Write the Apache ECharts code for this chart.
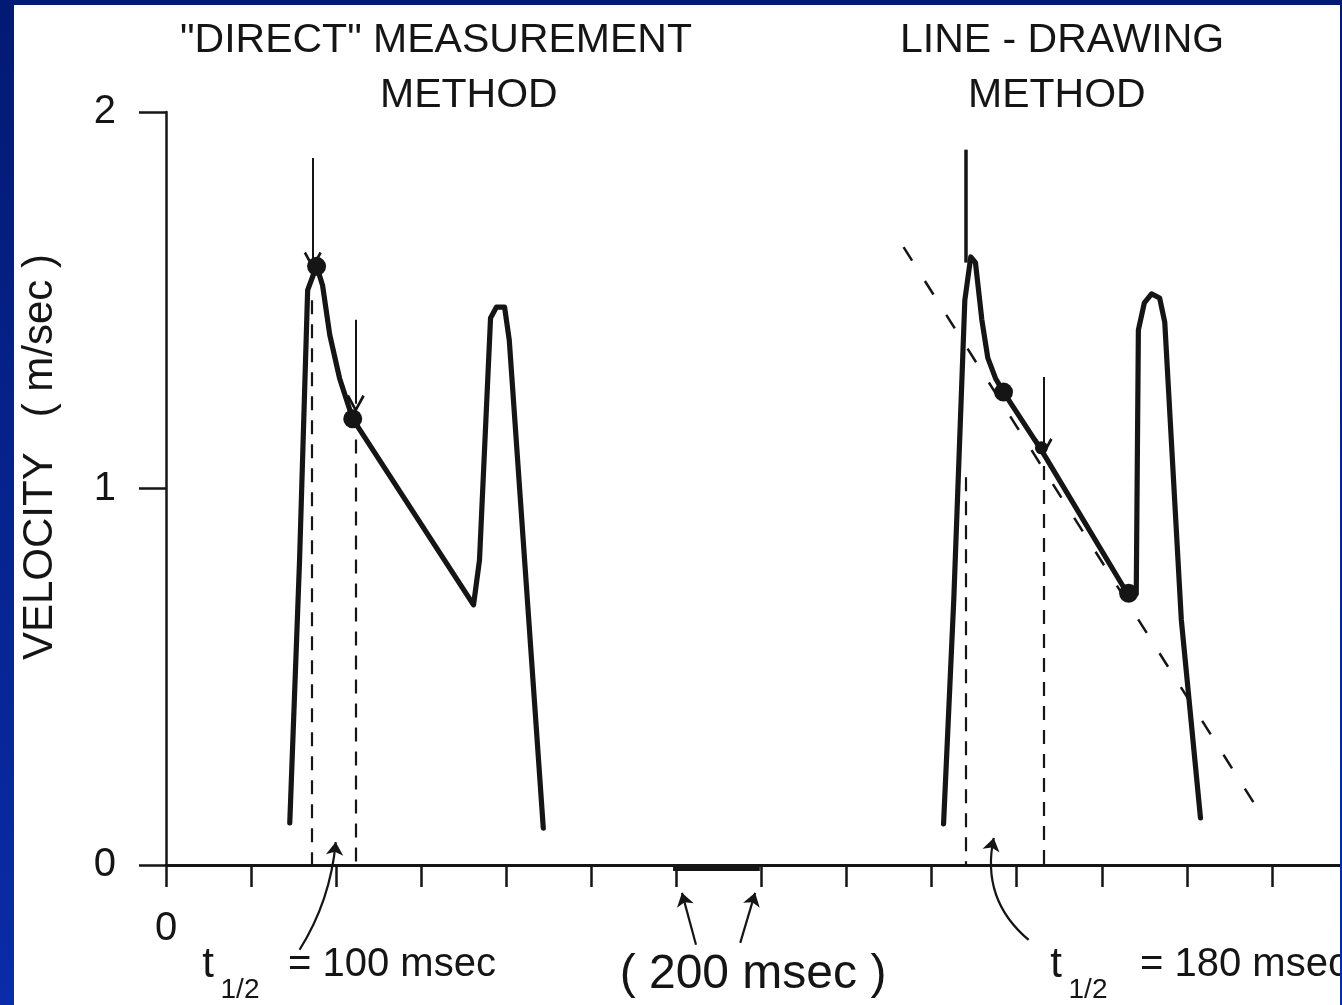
<!DOCTYPE html>
<html>
<head>
<meta charset="utf-8">
<script src="https://cdn.jsdelivr.net/npm/echarts@6/dist/echarts.min.js"></script>
<style>
html,body{margin:0;padding:0;width:1342px;height:1005px;overflow:hidden;background:linear-gradient(to bottom,#021a74,#0b2ba8);}
#chart{position:absolute;left:14px;top:5px;width:1326px;height:1000px;background:#fff;}
</style>
</head>
<body>
<div id="chart"></div>
<script>
// ---- data (time in msec, velocity in m/sec) ----
const xTickValues = [0,200,400,600,800,1000,1200,1400,1600,1800,2000,2200,2400,2600];
const xLabelValues = [0];
const yTickValues = [0,1,2];

const directTime = [291,314,333,354,368,385,408,439,723,737,763,777,796,807,887];
const directVel  = [0.112,0.81,1.527,1.591,1.540,1.408,1.293,1.185,0.691,0.81,1.453,1.482,1.482,1.394,0.098];

const lineTime = [1828,1852,1878,1892,1903,1918,1932,1950,1969,2058,2258,2281,2286,2300,2317,2336,2348,2387,2432];
const lineVel  = [0.109,0.704,1.50,1.615,1.60,1.448,1.347,1.293,1.256,1.102,0.725,0.72,1.421,1.493,1.517,1.506,1.442,0.651,0.125];

const dotTime = [354,439,1969,2058,2263];
const dotVel  = [1.590,1.185,1.256,1.108,0.722];
const dotSize = [19,19,19,13,19];

// vertical dashed drop lines: [time, top velocity]
const dropTime = [343,446,1880,2063];
const dropTop  = [1.50,1.13,1.03,1.06];

// indicator arrows (vertical): [time, from velocity, to velocity]
const arrowTime = [345,446,2063];
const arrowFrom = [1.878,1.448,1.296];
const arrowTo   = [1.605,1.225,1.110];

// extrapolation (dashed) line
const extrapTime = [1734,2568];
const extrapVel  = [1.641,0.146];

// tall spike on the line-drawing trace
const spikeTime = [1880,1880];
const spikeVel  = [1.60,1.90];

// 200 msec scale bar
const barTime = [1192,1396];
const barVel  = [0,0];

// annotation arrows below the axis: [fromT, fromV, toT, toV, curveness]
const noteFromT = [314,1246,1350,2028];
const noteFromV = [-0.225,-0.212,-0.207,-0.199];
const noteToT   = [399,1213,1385,1946];
const noteToV   = [0.061,-0.074,-0.074,0.072];
const noteCurve = [-0.12,0,0,0.3];

const titleLeft1 = '"DIRECT" MEASUREMENT';
const titleLeft2 = 'METHOD';
const titleRight1 = 'LINE - DRAWING';
const titleRight2 = 'METHOD';
const yName = 'VELOCITY   ( m/sec )';

// ---- chart ----
const FONT = '"Liberation Sans", Arial, sans-serif';
const INK = '#151515';
const chart = echarts.init(document.getElementById('chart'), null, {renderer:'canvas'});

const zip = (a,b) => a.map((v,i)=>[v,b[i]]);
const chevron = 'path://M10,0 L20,15 L17.5,16.5 L10,5 L2.5,16.5 L0,15 Z';

const option = {
  animation:false,
  backgroundColor:'#ffffff',
  grid:{left:152, top:107, width:1174, height:753, containLabel:false},
  xAxis:{
    type:'value', min:0, max:2760,
    axisLine:{show:true, onZero:false, lineStyle:{color:INK, width:2.8}},
    axisTick:{show:true, customValues:xTickValues, length:22, lineStyle:{color:INK, width:2.5}},
    axisLabel:{show:true, customValues:xLabelValues, formatter:v=>String(v), margin:44, fontSize:40, fontFamily:FONT, color:INK},
    splitLine:{show:false}
  },
  yAxis:{
    type:'value', min:0, max:2, interval:1,
    axisLine:{show:true, lineStyle:{color:INK, width:2.5}},
    axisTick:{show:true, customValues:yTickValues, length:27, lineStyle:{color:INK, width:2.5}},
    axisLabel:{show:true, customValues:yTickValues, margin:50, fontSize:40, fontFamily:FONT, color:INK},
    splitLine:{show:false}
  },
  series:[
    {type:'lines', coordinateSystem:'cartesian2d', clip:false, z:2,
      lineStyle:{color:INK, width:2.2, type:[14,10], opacity:1},
      data: dropTime.map((t,i)=>({coords:[[t,dropTop[i]],[t,0]]}))},
    {type:'lines', coordinateSystem:'cartesian2d', clip:false, z:2,
      lineStyle:{color:INK, width:2.5, type:[16,24], opacity:1},
      data:[{coords: zip(extrapTime, extrapVel)}]},
    {type:'line', data: zip(directTime, directVel), showSymbol:false, symbol:'none', z:4,
      lineStyle:{color:INK, width:5.2, join:'round', cap:'round'}},
    {type:'line', data: zip(lineTime, lineVel), showSymbol:false, symbol:'none', z:4,
      lineStyle:{color:INK, width:5.2, join:'round', cap:'round'}},
    {type:'lines', coordinateSystem:'cartesian2d', clip:false, z:4,
      lineStyle:{color:INK, width:3.5, opacity:1},
      data:[{coords: zip(spikeTime, spikeVel)}]},
    {type:'lines', coordinateSystem:'cartesian2d', clip:false, z:3,
      lineStyle:{color:INK, width:7, opacity:1},
      data:[{coords: zip(barTime, barVel).map(p=>[p[0], p[1]-0.006])}]},
    {type:'scatter', data: dotTime.map((t,i)=>({value:[t,dotVel[i]], symbolSize:dotSize[i]})), z:5,
      itemStyle:{color:INK, opacity:1}},
    {type:'lines', coordinateSystem:'cartesian2d', clip:false, z:5,
      symbol:['none', chevron], symbolSize:18,
      lineStyle:{color:INK, width:2, opacity:1},
      data: arrowTime.map((t,i)=>({coords:[[t,arrowFrom[i]],[t,arrowTo[i]]]}))},
    {type:'lines', coordinateSystem:'cartesian2d', clip:false, z:5,
      symbol:['none','arrow'], symbolSize:13,
      lineStyle:{color:INK, width:2.2, opacity:1},
      data: noteFromT.map((t,i)=>({coords:[[t,noteFromV[i]],[noteToT[i],noteToV[i]]], lineStyle:{curveness:noteCurve[i]}}))}
  ],
  graphic:[
    {type:'text', left:166, top:15, style:{text:titleLeft1, font:'41px '+FONT, fill:INK}},
    {type:'text', left:366, top:70, style:{text:titleLeft2, font:'41px '+FONT, fill:INK}},
    {type:'text', left:886, top:15, style:{text:titleRight1, font:'41px '+FONT, fill:INK}},
    {type:'text', left:954, top:70, style:{text:titleRight2, font:'41px '+FONT, fill:INK}},
    {type:'text', x:26, y:452, rotation:Math.PI/2, style:{text:yName, font:'42px '+FONT, fill:INK, align:'center', verticalAlign:'middle'}},
    {type:'text', x:194, y:960, style:{text:'t', font:'42px '+FONT, fill:INK, align:'center', verticalAlign:'middle'}},
    {type:'text', x:226, y:985, style:{text:'1/2', font:'28px '+FONT, fill:INK, align:'center', verticalAlign:'middle'}},
    {type:'text', x:274, y:960, style:{text:'= 100 msec', font:'40px '+FONT, fill:INK, align:'left', verticalAlign:'middle'}},
    {type:'text', x:739, y:970, style:{text:'( 200 msec )', font:'48px '+FONT, fill:INK, align:'center', verticalAlign:'middle'}},
    {type:'text', x:1042, y:960, style:{text:'t', font:'42px '+FONT, fill:INK, align:'center', verticalAlign:'middle'}},
    {type:'text', x:1074, y:985, style:{text:'1/2', font:'28px '+FONT, fill:INK, align:'center', verticalAlign:'middle'}},
    {type:'text', x:1126, y:960, style:{text:'= 180 msec', font:'40px '+FONT, fill:INK, align:'left', verticalAlign:'middle'}}
  ]
};
chart.setOption(option);
</script>
</body>
</html>
